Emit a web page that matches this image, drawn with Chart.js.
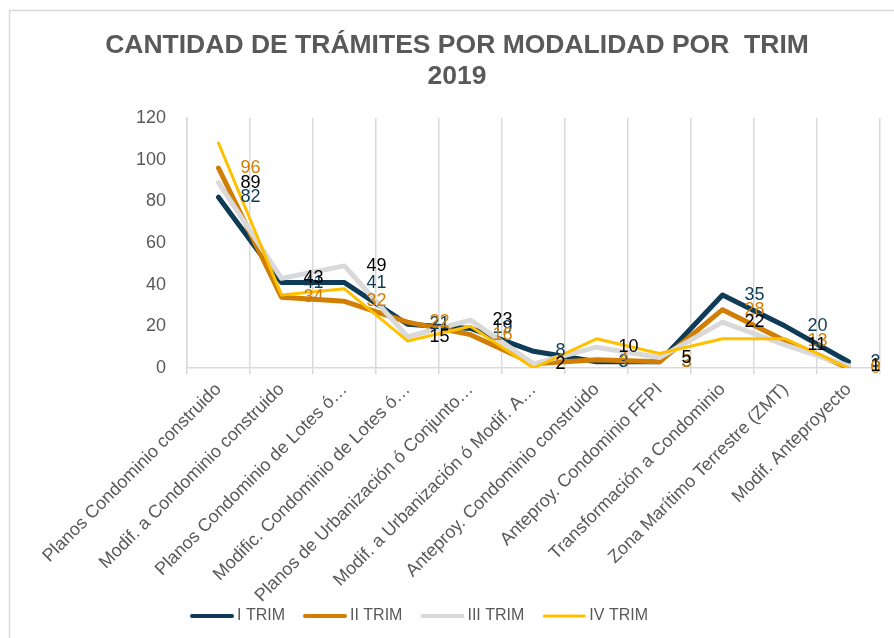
<!DOCTYPE html>
<html>
<head>
<meta charset="utf-8">
<script src="https://cdn.jsdelivr.net/npm/chart.js@4.4.1/dist/chart.umd.min.js"></script>
<style>
html,body{margin:0;padding:0;background:#fff;}
canvas{display:block;}
</style>
</head>
<body>
<canvas id="c" width="894" height="638"></canvas>
<script>
const categories = [
  "Planos Condominio construido",
  "Modif. a Condominio construido",
  "Planos Condominio de Lotes ó…",
  "Modific. Condominio de Lotes ó…",
  "Planos de Urbanización ó Conjunto…",
  "Modif. a Urbanización ó Modif. A…",
  "Anteproy. Condominio construido",
  "Anteproy. Condominio FFPI",
  "Transformación a Condominio",
  "Zona Marítimo Terrestre (ZMT)",
  "Modif. Anteproyecto"
];
const seriesNames = ["I TRIM", "II TRIM", "III TRIM", "IV TRIM"];
const trim1 = [82, 41, 41, 21, 19, 8, 3, 3, 35, 20, 3];
const trim2 = [96, 34, 32, 22, 16, 2, 4, 3, 28, 13, 0];
const trim3 = [89, 43, 49, 15, 23, 2, 10, 5, 22, 11, 1];
const trim4 = [108, 35, 38, 13, 20, 0, 14, 7, 14, 14, 0];
const yTicks = [0, 20, 40, 60, 80, 100, 120];
const titleLines = ["CANTIDAD DE TRÁMITES POR MODALIDAD POR  TRIM", "2019"];

const FONT = "'Liberation Sans', Arial, sans-serif";
const colors = ["#0e3b56", "#d07f04", "#d9d9d9", "#ffc000"];
const labelColors = ["#0e3b56", "#d07f04", "#000000", null];
const widths = [5, 5, 5, 3];

const frame = {
  id: 'frame',
  beforeDraw(chart) {
    const c = chart.ctx;
    c.save();
    c.strokeStyle = '#d9d9d9';
    c.lineWidth = 1.5;
    c.beginPath();
    c.moveTo(9.5, 638); c.lineTo(9.5, 10.5); c.lineTo(894, 10.5);
    c.stroke();
    c.restore();
  }
};

const dataLabels = {
  id: 'dataLabels',
  afterDatasetsDraw(chart) {
    const c = chart.ctx;
    c.save();
    c.font = "18px " + FONT;
    c.textAlign = 'left';
    c.textBaseline = 'middle';
    chart.data.datasets.forEach((ds, i) => {
      if (!labelColors[i]) return;
      const meta = chart.getDatasetMeta(i);
      c.fillStyle = labelColors[i];
      meta.data.forEach((pt, j) => {
        c.fillText(String(ds.data[j]), pt.x + 22, pt.y);
      });
    });
    c.restore();
  }
};

const legendPlugin = {
  id: 'customLegend',
  afterDraw(chart) {
    const c = chart.ctx;
    c.save();
    c.font = "16px " + FONT;
    c.textBaseline = 'middle';
    c.textAlign = 'left';
    let x = 190;
    const y = 616;
    seriesNames.forEach((name, i) => {
      c.strokeStyle = colors[i];
      c.lineWidth = widths[i] === 3 ? 3 : 4;
      c.lineCap = 'round';
      c.beginPath();
      c.moveTo(x + 2, y); c.lineTo(x + 42, y);
      c.stroke();
      c.fillStyle = '#595959';
      c.fillText(name, x + 47, y);
      x += 47 + c.measureText(name).width + 18;
    });
    c.restore();
  }
};

new Chart(document.getElementById('c'), {
  type: 'line',
  data: {
    labels: categories,
    datasets: [trim1, trim2, trim3, trim4].map((d, i) => ({
      label: seriesNames[i],
      data: d,
      borderColor: colors[i],
      backgroundColor: colors[i],
      borderWidth: widths[i],
      pointRadius: 0,
      pointHoverRadius: 0,
      tension: 0,
      fill: false,
      borderCapStyle: 'round',
      borderJoinStyle: 'round',
      order: 4 - i
    }))
  },
  options: {
    responsive: false,
    animation: false,
    events: [],
    layout: { padding: { left: 34, right: 14, top: 0, bottom: 20 } },
    plugins: {
      legend: { display: false },
      tooltip: { enabled: false },
      title: {
        display: true,
        text: titleLines,
        color: '#595959',
        font: { family: FONT, size: 26.5, weight: 'bold', lineHeight: 1.17 },
        padding: { top: 30, bottom: 26 }
      }
    },
    scales: {
      x: {
        type: 'category',
        offset: true,
        grid: { display: true, offset: true, color: '#d9d9d9', lineWidth: 1.5, tickLength: 6, drawTicks: true },
        border: { display: true, color: '#d9d9d9', width: 1.5 },
        ticks: {
          autoSkip: false, maxRotation: 45, minRotation: 45,
          color: '#595959', font: { family: FONT, size: 18 }, padding: 5
        },
        afterFit(scale) { scale.height = 250; }
      },
      y: {
        min: 0, max: 120,
        afterBuildTicks(scale) { scale.ticks = yTicks.map(v => ({ value: v })); },
        grid: { display: false, drawTicks: false },
        border: { display: true, color: '#d9d9d9', width: 1.5 },
        ticks: { color: '#595959', font: { family: FONT, size: 18 }, padding: 21 },
        afterFit(scale) { scale.width = 153; }
      }
    }
  },
  plugins: [frame, dataLabels, legendPlugin]
});
</script>
</body>
</html>
